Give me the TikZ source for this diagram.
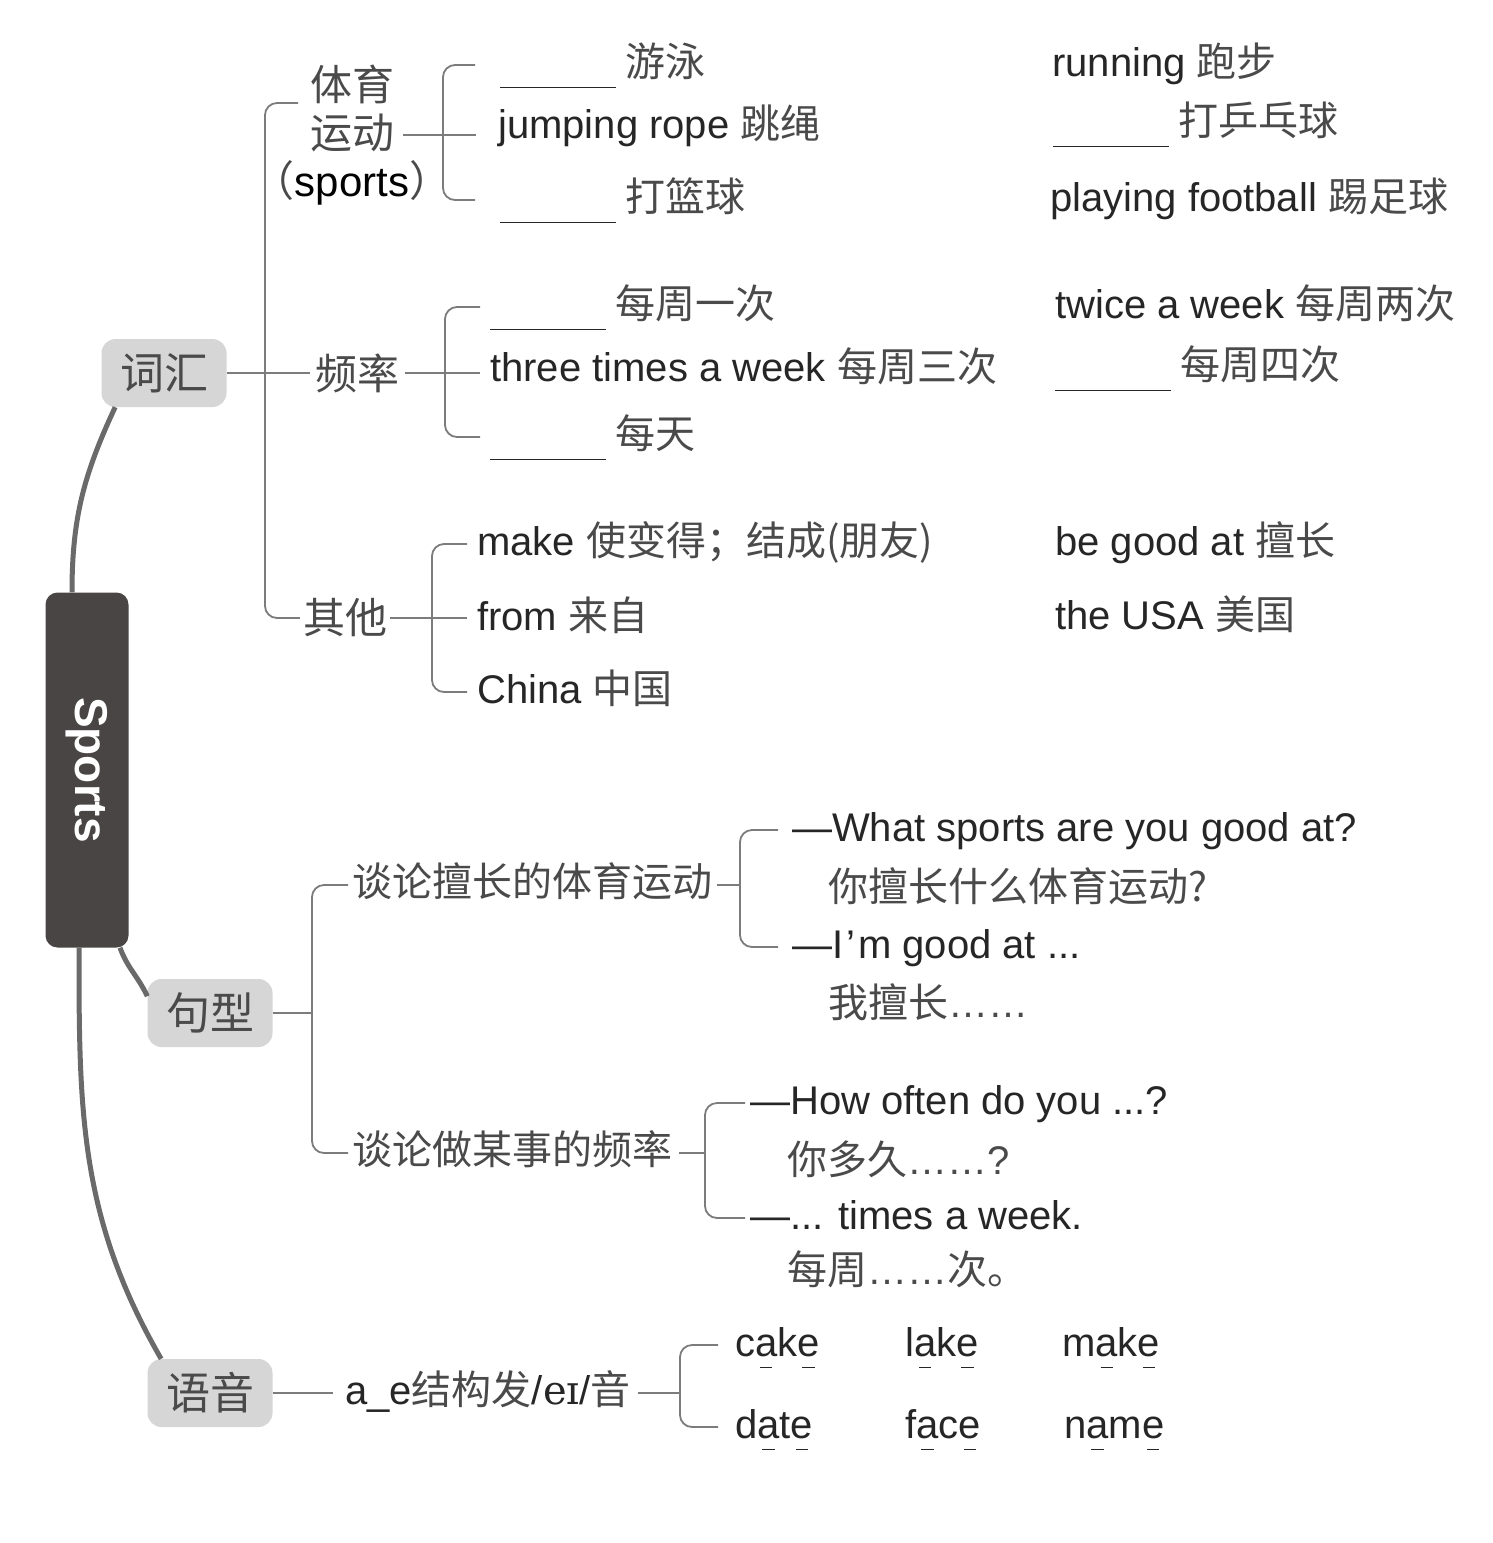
\documentclass[tikz,border=0pt]{standalone}
\usepackage{fontspec}
\setmainfont{Liberation Sans}
\newfontfamily\cjk{Noto Sans CJK SC}
\newfontfamily\ipa{DejaVu Serif}
\usepackage{xcolor}
\definecolor{zhgray}{HTML}{4A4A4A}
\definecolor{linegray}{HTML}{7C7C7C}
\definecolor{stemgray}{HTML}{6A6A6A}
\definecolor{boxgray}{HTML}{D6D6D6}
\definecolor{rootgray}{HTML}{4A4545}
\newcommand\zh[1]{{\cjk\color{zhgray}#1}}
\newcommand\blank{\rule[-0.3em]{116pt}{1.5pt}\hspace{9pt}}
\newcommand\udash[1]{\setbox0\hbox{#1}\rlap{\hbox to\wd0{\hss\rule[-0.3em]{0.55\wd0}{1.5pt}\hss}}#1}

\begin{document}
\begin{tikzpicture}[x=1pt,y=-1pt,
		rootbox/.style={fill=rootgray,rounded corners=12pt,minimum width=83pt,minimum height=355pt,inner sep=0pt,text=white,font=\fontsize{46}{50}\selectfont\bfseries},
		topicbox/.style={fill=boxgray,rounded corners=14pt,minimum width=125pt,minimum height=68pt,inner sep=0pt,font=\fontsize{44}{48}\selectfont},
		sublabel/.style={inner sep=0pt,font=\fontsize{42}{48}\selectfont}]
			\tikzset{leaf/.style={anchor=west,inner sep=0pt,text height=30pt,text depth=8pt,font=\fontsize{40}{48}\selectfont,text=black!85},
				stemline/.style={draw=stemgray,line width=5pt},
				forkline/.style={draw=linegray,line width=1.8pt,rounded corners=12pt}}
			\useasboundingbox[fill=white] (0,0) rectangle (1493,1543);
			% root and topics
			\node[rootbox] (sp) at (87,770) {\rotatebox{-90}{Sports}};
			\node[topicbox] (ch) at (164,373) {\zh{词汇}};
			\node[topicbox] (jx) at (210,1013) {\zh{句型}};
			\node[topicbox] (yy) at (210,1393) {\zh{语音}};
			\draw[stemline] ([xshift=-15pt]sp.north) to[out=90,in=245] (ch.215);
			\draw[stemline] ([xshift=33pt]sp.south) to[out=-70,in=115] (jx.165);
			\draw[stemline] ([xshift=-8pt]sp.south) to[out=-90,in=120] (yy.145);
			% 词汇
			\node[sublabel,align=center] (ty) at (352,135) {\zh{体育}\\\zh{运动}\\\zh{（}sports\zh{）}};
			\node[sublabel] (pl) at (357,373) {\zh{频率}};
			\node[sublabel] (qt) at (345,618) {\zh{其他}};
			\coordinate (tyin) at (298,103);
			\coordinate (chfork) at (265,373);
			\draw[forkline] (tyin) -| (chfork) |- ([xshift=-3pt]qt.west);
			\draw[forkline] (ch.east) -- ([xshift=-5pt]pl.west);
			\node[leaf] (sw) at (500,65) {\blank\zh{游泳}};
			\node[leaf] (jr) at (498,127) {jumping rope \zh{跳绳}};
			\node[leaf] (bb) at (500,200) {\blank\zh{打篮球}};
			\node[leaf] (rn) at (1052,65) {running \zh{跑步}};
			\node[leaf] (pp) at (1053,124) {\blank\zh{打乒乓球}};
			\node[leaf] (fb) at (1050,200) {playing football \zh{踢足球}};
			\coordinate (tyfork) at (443,133);
			\draw[forkline] ([xshift=-25pt]sw.west) -| (tyfork) |- ([xshift=-25pt]bb.west);
			\draw[forkline] ([xshift=-48pt]ty.east) -- ([xshift=-22pt]ty.east -| jr.west);
			\node[leaf] (e1) at (490,307) {\blank\zh{每周一次}};
			\node[leaf] (e3) at (490,370) {three times a week \zh{每周三次}};
			\node[leaf] (ed) at (490,437) {\blank\zh{每天}};
			\node[leaf] (e2) at (1055,307) {twice a week \zh{每周两次}};
			\node[leaf] (e4) at (1055,368) {\blank\zh{每周四次}};
			\coordinate (plfork) at (445,373);
			\draw[forkline] ([xshift=-10pt]e1.west) -| (plfork) |- ([xshift=-10pt]ed.west);
			\draw[forkline] ([xshift=6pt]pl.east) -- ([xshift=-10pt]pl.east -| e3.west);
			\node[leaf] (mk) at (477,544) {make \zh{使变得；结成(朋友)}};
			\node[leaf] (fr) at (477,619) {from \zh{来自}};
			\node[leaf] (cn) at (477,692) {China \zh{中国}};
			\node[leaf] (bg) at (1055,544) {be good at \zh{擅长}};
			\node[leaf] (us) at (1055,618) {the USA \zh{美国}};
			\coordinate (qtfork) at (432,618);
			\draw[forkline] ([xshift=-10pt]mk.west) -| (qtfork) |- ([xshift=-10pt]cn.west);
			\draw[forkline] ([xshift=3pt]qt.east) -- ([xshift=-10pt]qt.east -| fr.west);
			% 句型
			\node[leaf] (t1) at (352,885) {\zh{谈论擅长的体育运动}};
			\node[leaf] (t2) at (352,1153) {\zh{谈论做某事的频率}};
			\coordinate (jxfork) at (312,1013);
			\draw[forkline] ([xshift=-4pt]t1.west) -| (jxfork) |- ([xshift=-4pt]t2.west);
			\draw[forkline] (jx.east) -- (jxfork);
			\node[leaf] (a1) at (792,830) {—What sports are you good at?};
			\node[leaf] (a2) at (828,890) {\zh{你擅长什么体育运动?}};
			\node[leaf] (a3) at (792,947) {—I\hspace{3pt}’\hspace{3pt}m good at ...};
			\node[leaf] (a4) at (828,1006) {\zh{我擅长}\textcolor{zhgray}{……}};
			\coordinate (t1fork) at (740,885);
			\draw[forkline] ([xshift=-14pt]a1.west) -| (t1fork) |- ([xshift=-14pt]a3.west);
			\draw[forkline] ([xshift=5pt]t1.east) -- (t1fork);
			\node[leaf] (b1) at (750,1103) {—How often do you ...?};
			\node[leaf] (b2) at (787,1163) {\zh{你多久}\textcolor{zhgray}{……?}};
			\node[leaf] (b3) at (750,1218) {—... times a week.};
			\node[leaf] (b4) at (787,1273) {\zh{每周}\textcolor{zhgray}{……}\zh{次。}};
			\coordinate (t2fork) at (705,1153);
			\draw[forkline] ([xshift=-5pt]b1.west) -| (t2fork) |- ([xshift=-5pt]b3.west);
			\draw[forkline] ([xshift=7pt]t2.east) -- (t2fork);
			% 语音
			\node[leaf] (ae) at (345,1393) {a\_e\zh{结构发}/{\ipa eɪ}/\zh{音}};
			\draw[forkline] (yy.east) -- ([xshift=-12pt]ae.west);
			\node[leaf] (w1) at (735,1345) {c\udash{a}k\udash{e}};
			\node[leaf] (w2) at (905,1345) {l\udash{a}k\udash{e}};
			\node[leaf] (w3) at (1062,1345) {m\udash{a}k\udash{e}};
			\node[leaf] (w4) at (735,1427) {d\udash{a}t\udash{e}};
			\node[leaf] (w5) at (905,1427) {f\udash{a}c\udash{e}};
			\node[leaf] (w6) at (1064,1427) {n\udash{a}m\udash{e}};
			\coordinate (aefork) at (680,1393);
			\draw[forkline] ([xshift=-17pt]w1.west) -| (aefork) |- ([xshift=-17pt]w4.west);
			\draw[forkline] ([xshift=7pt]ae.east) -- (aefork);
		\end{tikzpicture}
\end{document}
